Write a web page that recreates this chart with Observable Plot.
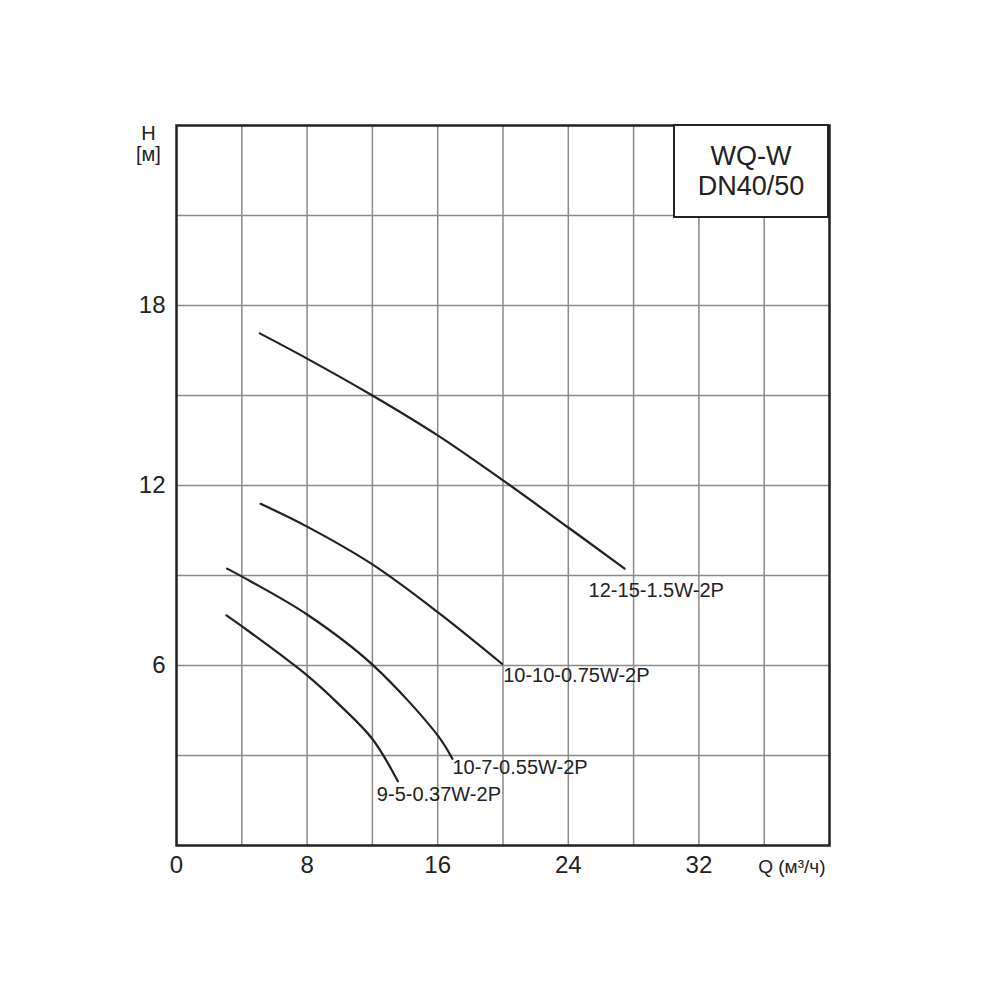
<!DOCTYPE html>
<html>
<head>
<meta charset="utf-8">
<script src="https://cdn.jsdelivr.net/npm/d3@7"></script>
<script src="https://cdn.jsdelivr.net/npm/@observablehq/plot@0.6"></script>
<style>
  html, body { margin: 0; padding: 0; background: #fff; }
  #wrap { position: relative; width: 1000px; height: 1000px; font-family: "Liberation Sans", Arial, sans-serif; }
  #box {
    position: absolute; left: 673px; top: 124px; width: 152px; height: 90px;
    border: 2.5px solid #222; background: #fff; color: #222;
    display: flex; flex-direction: column; align-items: center; justify-content: center;
    font-size: 27px; line-height: 30px; text-align: center;
  }
</style>
</head>
<body>
<div id="wrap"></div>
<script>
// Q (m³/h) and H (m) for each pump curve
const names = ["12-15-1.5W-2P", "10-10-0.75W-2P", "10-7-0.55W-2P", "9-5-0.37W-2P"];
const q1 = [5.1, 8, 12, 16, 20, 24, 27.45];
const h1 = [17.07, 16.23, 15.0, 13.67, 12.17, 10.6, 9.23];
const q2 = [5.15, 8, 12, 16, 19.95];
const h2 = [11.39, 10.63, 9.37, 7.78, 6.05];
const q3 = [3.1, 4.53, 8, 12, 16, 16.9];
const h3 = [9.23, 8.81, 7.7, 6.03, 3.67, 2.89];
const q4 = [3.06, 4.53, 8, 10, 12, 13.56];
const h4 = [7.67, 7.1, 5.67, 4.68, 3.55, 2.14];

const xTicks = [0, 8, 16, 24, 32];
const yTicks = [6, 12, 18];
const xGrid = [4, 8, 12, 16, 20, 24, 28, 32, 36];
const yGrid = [3, 6, 9, 12, 15, 18, 21];
const boxLines = ["WQ-W", "DN40/50"];

const series = [[q1, h1], [q2, h2], [q3, h3], [q4, h4]].map(([q, h], i) =>
  q.map((v, j) => ({name: names[i], q: v, h: h[j]})));
const ends = series.map(s => [s[s.length - 1]]);

const ink = "#222";
const labelOffsets = [[-36, 22], [1, 12], [0, 9], [-21, 13]];

const chart = Plot.plot({
  width: 1000,
  height: 1000,
  marginLeft: 176,
  marginRight: 171,
  marginTop: 125,
  marginBottom: 155,
  style: {fontFamily: "'Liberation Sans', Arial, sans-serif", color: ink, background: "#fff"},
  x: {domain: [0, 40]},
  y: {domain: [0, 24]},
  marks: [
    Plot.gridX(xGrid, {stroke: "#8a8a8a", strokeOpacity: 1, strokeWidth: 1.5}),
    Plot.gridY(yGrid, {stroke: "#8a8a8a", strokeOpacity: 1, strokeWidth: 1.5}),
    Plot.axisX({ticks: xTicks, tickSize: 0, tickPadding: 10, fontSize: 24, label: null, fill: ink}),
    Plot.axisY({ticks: yTicks, tickSize: 0, tickPadding: 11, fontSize: 24, label: null, fill: ink}),
    ...series.map(s => Plot.line(s, {x: "q", y: "h", stroke: ink, strokeWidth: 2.2, curve: "catmull-rom"})),
    ...ends.map((e, i) => Plot.text(e, {x: "q", y: "h", text: "name", textAnchor: "start",
      lineAnchor: "middle", dx: labelOffsets[i][0], dy: labelOffsets[i][1], fontSize: 20, fill: ink})),
    Plot.text(["Q (м³/ч)"], {frameAnchor: "bottom-right", textAnchor: "end", lineAnchor: "middle",
      dx: -4, dy: 21, fontSize: 19, fill: ink}),
    Plot.text(["H"], {frameAnchor: "top-left", textAnchor: "middle", lineAnchor: "middle",
      dx: -28, dy: 8, fontSize: 20, fill: ink}),
    Plot.text(["[м]"], {frameAnchor: "top-left", textAnchor: "middle", lineAnchor: "middle",
      dx: -28, dy: 29, fontSize: 20, fill: ink}),
    Plot.frame({stroke: ink, strokeWidth: 2.5})
  ]
});

const wrap = document.getElementById("wrap");
wrap.appendChild(chart);
const box = document.createElement("div");
box.id = "box";
box.innerHTML = boxLines.map(t => `<div>${t}</div>`).join("");
wrap.appendChild(box);
</script>
</body>
</html>
